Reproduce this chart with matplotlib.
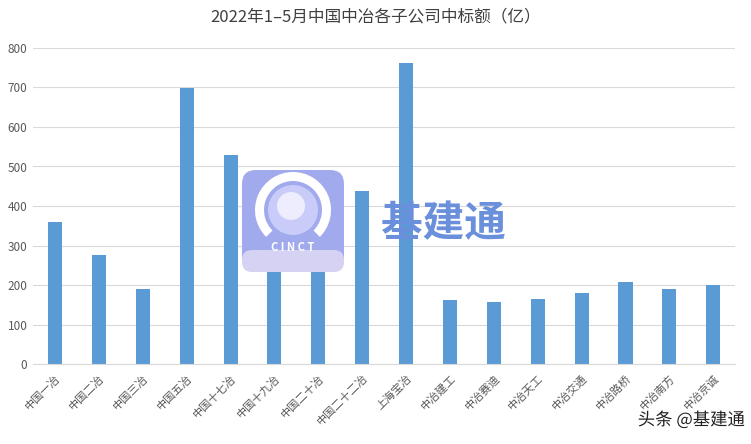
import matplotlib.pyplot as plt
import matplotlib.patheffects as pe
from matplotlib.patches import FancyBboxPatch, Circle, Wedge

plt.rcParams['font.family'] = ['Noto Sans CJK SC', 'DejaVu Sans']

# 中标额（亿）
companies = ['中国一冶', '中国二冶', '中国三冶', '中国五冶', '中国十七冶', '中国十九冶',
             '中国二十冶', '中国二十二冶', '上海宝冶', '中冶建工', '中冶赛迪', '中冶天工',
             '中冶交通', '中冶路桥', '中冶南方', '中冶京诚']
amounts = [359, 275, 191, 699, 530, 232, 245, 437, 762, 161, 156, 164, 179, 207, 189, 201]
y_ticks = [0, 100, 200, 300, 400, 500, 600, 700, 800]

fig = plt.figure(figsize=(7.51, 4.44), dpi=100)
ax = fig.add_axes([0.044, 0.180, 0.935, 0.712])

x = range(len(companies))
ax.bar(x, amounts, width=0.32, color='#5B9BD5', zorder=2)

ax.set_xlim(-0.5, len(companies) - 0.5)
ax.set_ylim(0, 800)
ax.set_yticks(y_ticks)
ax.set_yticklabels([str(v) for v in y_ticks], fontsize=8.5, color='#595959')
ax.set_xticks(list(x))
ax.set_xticklabels(companies, rotation=45, ha='right', va='top', fontsize=8,
                   color='#595959', rotation_mode='anchor')
ax.tick_params(axis='both', length=0, pad=4)
ax.tick_params(axis='x', pad=6)
ax.grid(axis='y', color='#D9D9D9', linewidth=0.8, zorder=0)
for s in ['top', 'right', 'left']:
    ax.spines[s].set_visible(False)
ax.spines['bottom'].set_color('#D9D9D9')

fig.text(0.5, 0.962, '2022年1–5月中国中冶各子公司中标额（亿）', ha='center', va='center',
         fontsize=12, color='#404040')

# watermark, drawn on a pixel-space overlay
wm = fig.add_axes([0, 0, 1, 1], zorder=5)
wm.set_xlim(0, 751)
wm.set_ylim(444, 0)
wm.axis('off')
wm.add_patch(FancyBboxPatch((242, 170), 102, 102, boxstyle='round,pad=0,rounding_size=14',
                            facecolor='#A2AAEE', edgecolor='none'))
wm.add_patch(FancyBboxPatch((242, 250), 102, 22, boxstyle='round,pad=0,rounding_size=10',
                            facecolor='#D6D2F4', edgecolor='none'))
wm.add_patch(Wedge((293, 210), 38, 135, 405, width=9, facecolor='white', edgecolor='none'))
wm.add_patch(Circle((293, 210), 25, facecolor='#C9CCF8', edgecolor='none'))
wm.add_patch(Circle((291, 206), 14, facecolor='#EDEDFD', edgecolor='none'))
wm.text(293, 247, 'C I N C T', ha='center', va='center', fontsize=8,
        color='white', fontweight='bold')
wm.text(443, 224, '基建通', ha='center', va='center', fontsize=30,
        color='#6A8FDB', fontweight='bold')
wm.text(745, 420, '头条 @基建通', ha='right', va='center', fontsize=12.5,
        color='#222222',
        path_effects=[pe.withStroke(linewidth=2.5, foreground='white')])

fig.savefig('out.png', dpi=100)
